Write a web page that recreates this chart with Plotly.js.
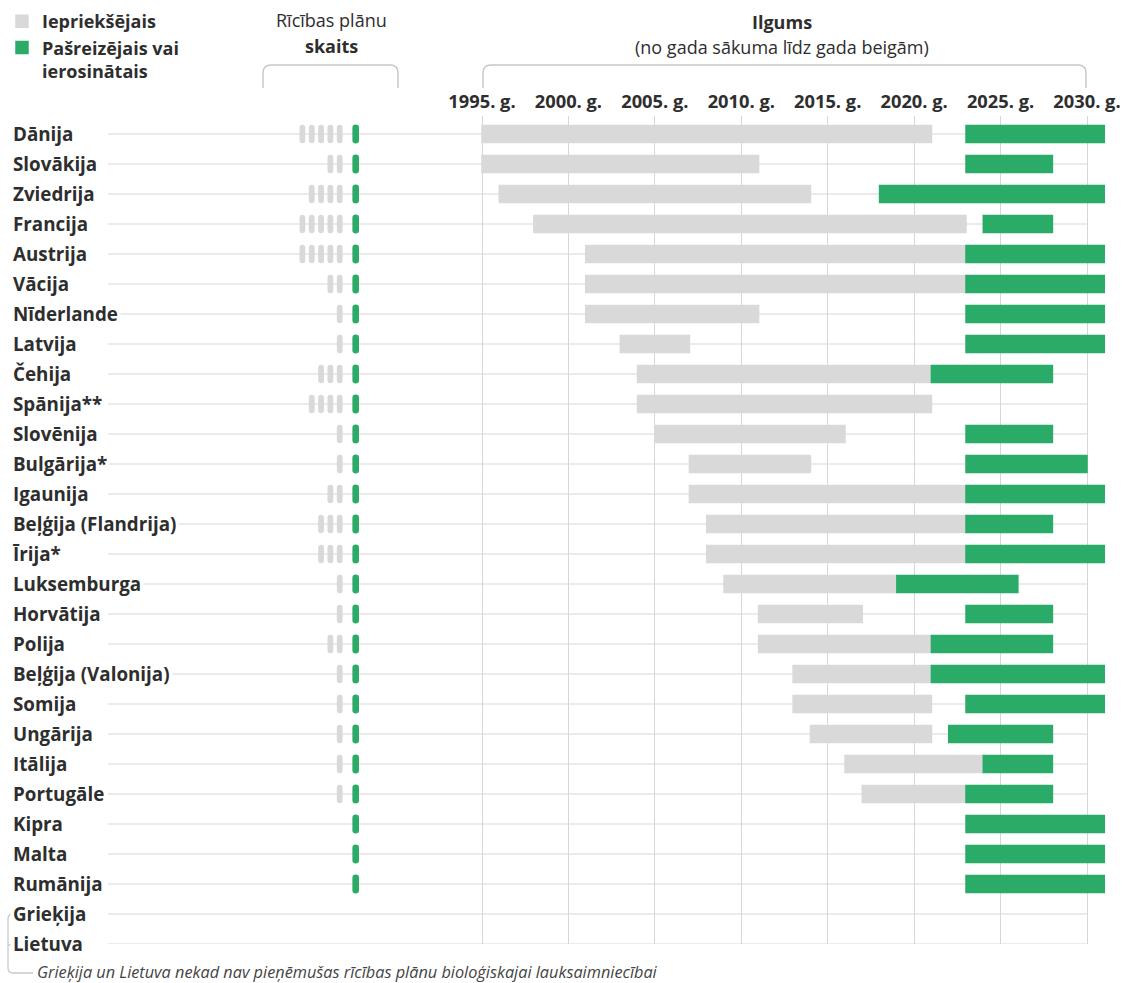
<!DOCTYPE html>
<html>
<head>
<meta charset="utf-8">
<script src="https://cdn.plot.ly/plotly-3.0.1.min.js"></script>
<style>
  html, body { margin: 0; padding: 0; background: #fff; }
  #chart { width: 1123px; height: 983px; }
  .scatterlayer .trace .points path { stroke-linecap: round; }
</style>
</head>
<body>
<div id="chart"></div>
<script>
// ---- DATA ----
const countries = ['Dānija','Slovākija','Zviedrija','Francija','Austrija','Vācija','Nīderlande','Latvija','Čehija','Spānija**','Slovēnija','Bulgārija*','Igaunija','Beļģija (Flandrija)','Īrija*','Luksemburga','Horvātija','Polija','Beļģija (Valonija)','Somija','Ungārija','Itālija','Portugāle','Kipra','Malta','Rumānija','Grieķija','Lietuva'];
const prevStart = [1995,1995,1996,1998,2001,2001,2001,2003,2004,2004,2005,2007,2007,2008,2008,2009,2011,2011,2013,2013,2014,2016,2017,null,null,null,null,null];
const prevEnd   = [2020,2010,2013,2022,2022,2022,2010,2006,2020,2020,2015,2013,2022,2022,2022,2018,2016,2020,2020,2020,2020,2023,2022,null,null,null,null,null];
const curStart  = [2023,2023,2018,2024,2023,2023,2023,2023,2021,null,2023,2023,2023,2023,2023,2019,2023,2021,2021,2023,2022,2024,2023,2023,2023,2023,null,null];
const curEnd    = [2030,2027,2030,2027,2030,2030,2030,2030,2027,null,2027,2029,2030,2027,2030,2025,2027,2027,2030,2030,2027,2027,2027,2030,2030,2030,null,null];
const prevPlans = [5,2,4,5,5,2,1,1,3,4,1,1,2,3,3,1,1,2,1,1,1,1,1,0,0,0,0,0];
const curPlans  = [1,1,1,1,1,1,1,1,1,1,1,1,1,1,1,1,1,1,1,1,1,1,1,1,1,1,0,0];
const tickYears = [1995,2000,2005,2010,2015,2020,2025,2030];
const tickLabels = ['1995. g.','2000. g.','2005. g.','2010. g.','2015. g.','2020. g.','2025. g.','2030. g.'];
const seriesNames = ['Iepriekšējais','Pašreizējais vai<br>ierosinātais'];

// ---- STYLE ----
const W = 1123, H = 983;
const FONT = 'Open Sans, Noto Sans, sans-serif';
const TXT = '#2e2e2e';
const GRAY = '#d9d9d9';
const GREEN = '#2bab68';
const LINE = '#e4e4e4';
const BRACKET = '#c8c8c8';

// durations: from start of start year to end of end year
const dur = (s, e) => s.map((v, i) => (v == null || e[i] == null) ? null : e[i] + 1 - v);

const traces = [
  {
    type: 'bar', orientation: 'h', name: seriesNames[0],
    y: countries, base: prevStart, x: dur(prevStart, prevEnd),
    width: 0.56, marker: {color: GRAY, line: {color: GRAY, width: 1.5}},
    hoverinfo: 'skip'
  },
  {
    type: 'bar', orientation: 'h', name: seriesNames[1],
    y: countries, base: curStart, x: dur(curStart, curEnd),
    width: 0.56, marker: {color: GREEN, line: {color: GREEN, width: 1.5}},
    hoverinfo: 'skip'
  }
];

// plan-count pills (slot units on a hidden axis)
const pgx = [], pgy = [], pcx = [], pcy = [];
countries.forEach((c, i) => {
  for (let k = 1; k <= prevPlans[i]; k++) { pgx.push(-(k + 0.714)); pgy.push(c); }
  for (let k = 0; k < curPlans[i]; k++) { pcx.push(-k); pcy.push(c); }
});
traces.push({
  type: 'scatter', mode: 'markers', xaxis: 'x2', yaxis: 'y', x: pgx, y: pgy,
  marker: {symbol: 'line-ns', size: 9, color: GRAY, line: {color: GRAY, width: 5.8}},
  showlegend: false, hoverinfo: 'skip', cliponaxis: false
});
traces.push({
  type: 'scatter', mode: 'markers', xaxis: 'x2', yaxis: 'y', x: pcx, y: pcy,
  marker: {symbol: 'line-ns', size: 9, color: GREEN, line: {color: GREEN, width: 6.6}},
  showlegend: false, hoverinfo: 'skip', cliponaxis: false
});

// ---- helpers for decoration in pixel space ----
const px = x => x / W;
const py = y => 1 - y / H;
const P = (x, y) => px(x).toFixed(5) + ',' + py(y).toFixed(5);
function bracket(x0, x1, yt, yb, r) {
  return 'M' + P(x0, yb) + ' L' + P(x0, yt + r) + ' Q' + P(x0, yt) + ' ' + P(x0 + r, yt) +
         ' L' + P(x1 - r, yt) + ' Q' + P(x1, yt) + ' ' + P(x1, yt + r) + ' L' + P(x1, yb);
}

const shapes = [];
countries.forEach((c, i) => {
  shapes.push({type: 'line', xref: 'paper', yref: 'y', x0: px(108), x1: px(1087), y0: i, y1: i,
    line: {color: LINE, width: 1.5}, layer: 'below'});
});
shapes.push({type: 'path', xref: 'paper', yref: 'paper', path: bracket(263, 398, 65, 88, 8), line: {color: BRACKET, width: 1.5}});
shapes.push({type: 'path', xref: 'paper', yref: 'paper', path: bracket(483, 1086, 65, 88, 8), line: {color: BRACKET, width: 1.5}});
shapes.push({type: 'path', xref: 'paper', yref: 'paper',
  path: 'M' + P(13, 914) + ' Q' + P(8, 914) + ' ' + P(8, 919) + ' L' + P(8, 968) + ' Q' + P(8, 973) + ' ' + P(13, 973) + ' L' + P(33, 973),
  line: {color: BRACKET, width: 1.3}});
shapes.push({type: 'line', xref: 'paper', yref: 'paper', x0: px(8), x1: px(13), y0: py(945), y1: py(945), line: {color: BRACKET, width: 1.3}});

const annotations = countries.map(c => ({
  xref: 'paper', yref: 'y', x: px(10), y: c, xanchor: 'left', yanchor: 'middle',
  text: c, showarrow: false, bgcolor: '#ffffff', borderpad: 2,
  font: {family: FONT, size: 18.8, color: TXT, weight: 700}
}));
const hdr = (x, y, text, weight, size, style) => ({
  xref: 'paper', yref: 'paper', x: px(x), y: py(y), xanchor: 'center', yanchor: 'middle',
  text: text, showarrow: false,
  font: {family: FONT, size: size || 18, color: TXT, weight: weight, style: style || 'normal'}
});
annotations.push(hdr(331, 20, 'Rīcības plānu', 400));
annotations.push(hdr(331, 46, 'skaits', 700));
annotations.push(hdr(782, 22, 'Ilgums', 700));
annotations.push(hdr(782, 47, '(no gada sākuma līdz gada beigām)', 400));
annotations.push({
  xref: 'paper', yref: 'paper', x: px(35), y: py(972), xanchor: 'left', yanchor: 'middle',
  text: 'Grieķija un Lietuva nekad nav pieņēmušas rīcības plānu bioloģiskajai lauksaimniecībai',
  showarrow: false, font: {family: FONT, size: 16.3, color: '#444444', style: 'italic'}
});

const pxPerYear = (1087 - 482) / 35;
const layout = {
  width: W, height: H,
  margin: {l: 0, r: 0, t: 0, b: 0, pad: 0},
  paper_bgcolor: '#ffffff', plot_bgcolor: 'rgba(0,0,0,0)',
  barmode: 'overlay',
  showlegend: true,
  legend: {
    x: px(2), y: py(3), xanchor: 'left', yanchor: 'top',
    font: {family: FONT, size: 18, color: TXT, weight: 700},
    valign: 'top', tracegroupgap: 0, bgcolor: 'rgba(0,0,0,0)', traceorder: 'normal'
  },
  xaxis: {
    domain: [0, 1], side: 'top',
    range: [1995 - 482 / pxPerYear, 1995 + (W - 482) / pxPerYear],
    tickvals: tickYears, ticktext: tickLabels, ticks: '',
    tickfont: {family: FONT, size: 18.3, color: TXT, weight: 700},
    ticklabelstandoff: 3,
    showgrid: true, gridcolor: '#d6d6d6', gridwidth: 1,
    zeroline: false, showline: false, fixedrange: true
  },
  xaxis2: {
    domain: [0, 1], anchor: 'y',
    range: [-355.7 / 9.33, (W - 355.7) / 9.33],
    visible: false, fixedrange: true
  },
  yaxis: {
    domain: [py(944), py(116)],
    type: 'category', categoryorder: 'array', categoryarray: countries,
    range: [27, -0.6], visible: false, showgrid: false, fixedrange: true
  },
  shapes: shapes,
  annotations: annotations
};

Plotly.newPlot('chart', traces, layout, {displayModeBar: false, staticPlot: true});
</script>
</body>
</html>
